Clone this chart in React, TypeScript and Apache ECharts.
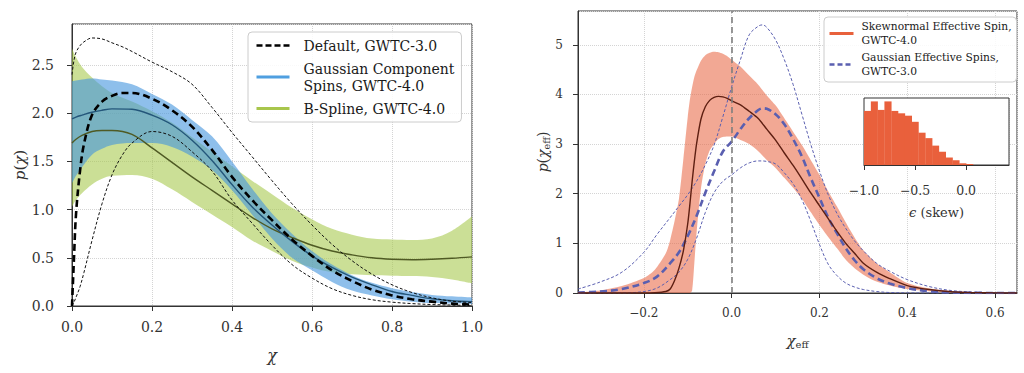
import React, { useEffect, useRef } from 'react';
import * as echarts from 'echarts';

const FONT = '"DejaVu Serif", serif';
const TXT = '#333333';

// ---------- Left panel: p(chi) ----------
const chiGrid = [0, 0.01, 0.025, 0.05, 0.075, 0.1, 0.15, 0.2, 0.25, 0.3, 0.35, 0.4, 0.45, 0.5, 0.55, 0.6, 0.65, 0.7, 0.75, 0.8, 0.85, 0.9, 0.95, 1.0];
const gaussUpper = [2.33, 2.34, 2.35, 2.36, 2.35, 2.34, 2.3, 2.2, 2.09, 1.93, 1.76, 1.5, 1.22, 0.96, 0.75, 0.57, 0.43, 0.32, 0.24, 0.185, 0.145, 0.115, 0.1, 0.087];
const gaussMedian = [1.94, 1.96, 1.98, 2.01, 2.03, 2.045, 2.04, 1.98, 1.88, 1.72, 1.51, 1.26, 1.03, 0.84, 0.67, 0.52, 0.4, 0.3, 0.22, 0.15, 0.11, 0.075, 0.055, 0.045];
const gaussLower = [1.27, 1.35, 1.44, 1.57, 1.63, 1.67, 1.69, 1.69, 1.65, 1.55, 1.41, 1.2, 0.95, 0.7, 0.5, 0.37, 0.25, 0.16, 0.11, 0.07, 0.045, 0.03, 0.025, 0.02];
const splineUpper = [2.67, 2.58, 2.48, 2.37, 2.28, 2.21, 2.12, 2.02, 1.9, 1.75, 1.6, 1.45, 1.3, 1.16, 1.02, 0.9, 0.8, 0.74, 0.7, 0.69, 0.685, 0.7, 0.78, 0.93];
const splineMedian = [1.69, 1.73, 1.77, 1.81, 1.82, 1.82, 1.78, 1.64, 1.49, 1.34, 1.2, 1.06, 0.92, 0.8, 0.71, 0.63, 0.57, 0.53, 0.5, 0.485, 0.48, 0.485, 0.495, 0.51];
const splineLower = [1.03, 1.1, 1.17, 1.26, 1.32, 1.35, 1.36, 1.32, 1.21, 1.08, 0.95, 0.82, 0.68, 0.57, 0.47, 0.4, 0.35, 0.33, 0.32, 0.315, 0.31, 0.3, 0.275, 0.235];

const defaultChi = [0, 0.005, 0.01, 0.02, 0.03, 0.05, 0.075, 0.1, 0.125, 0.15, 0.2, 0.25, 0.3, 0.35, 0.4, 0.45, 0.5, 0.55, 0.6, 0.65, 0.7, 0.75, 0.8, 0.85, 0.9, 0.95, 1.0];
const defaultMedian = [0, 0.5, 0.95, 1.4, 1.68, 1.98, 2.12, 2.18, 2.21, 2.21, 2.15, 2.03, 1.86, 1.62, 1.34, 1.1, 0.89, 0.69, 0.52, 0.37, 0.26, 0.17, 0.11, 0.07, 0.045, 0.025, 0.015];
const defaultUpper = [2.4, 2.55, 2.63, 2.7, 2.74, 2.78, 2.77, 2.73, 2.69, 2.64, 2.53, 2.43, 2.3, 2.06, 1.8, 1.55, 1.3, 1.06, 0.84, 0.64, 0.47, 0.33, 0.22, 0.14, 0.085, 0.05, 0.035];
const defaultLower = [0, 0.04, 0.09, 0.2, 0.35, 0.68, 1.06, 1.36, 1.56, 1.69, 1.81, 1.76, 1.6, 1.4, 1.1, 0.86, 0.63, 0.43, 0.29, 0.18, 0.11, 0.065, 0.04, 0.025, 0.015, 0.01, 0.005];

// ---------- Right panel: p(chi_eff) ----------
const chiEffGrid = [-0.35, -0.3, -0.25, -0.2, -0.175, -0.15, -0.14, -0.13, -0.12, -0.11, -0.1, -0.095, -0.09, -0.085, -0.08, -0.07, -0.06, -0.05, -0.04, -0.03, -0.02, -0.01, 0, 0.02, 0.04, 0.06, 0.08, 0.1, 0.12, 0.14, 0.16, 0.18, 0.2, 0.22, 0.24, 0.26, 0.28, 0.3, 0.33, 0.36, 0.4, 0.45, 0.5, 0.55, 0.6, 0.65];
const skewLower = [0, 0, 0, 0, 0, 0, 0, 0, 0, 0, 0, 0, 0.05, 0.6, 1.2, 2.1, 2.6, 2.87, 3.0, 3.1, 3.14, 3.15, 3.15, 3.08, 3.0, 2.86, 2.68, 2.52, 2.32, 2.12, 1.9, 1.63, 1.37, 1.13, 0.9, 0.67, 0.5, 0.37, 0.23, 0.15, 0.08, 0.035, 0.015, 0.005, 0, 0];
const skewUpper = [0.01, 0.05, 0.14, 0.3, 0.47, 0.8, 1.07, 1.45, 1.9, 2.7, 3.55, 3.9, 4.15, 4.35, 4.48, 4.68, 4.79, 4.84, 4.86, 4.85, 4.82, 4.77, 4.7, 4.56, 4.38, 4.2, 3.98, 3.78, 3.52, 3.25, 2.98, 2.68, 2.38, 2.05, 1.74, 1.42, 1.12, 0.86, 0.6, 0.42, 0.2, 0.09, 0.04, 0.015, 0.005, 0];
const skewMedian = [0, 0, 0, 0, 0.005, 0.03, 0.08, 0.25, 0.5, 0.85, 1.4, 1.8, 2.25, 2.65, 3.0, 3.5, 3.75, 3.88, 3.94, 3.96, 3.95, 3.92, 3.87, 3.79, 3.66, 3.52, 3.3, 3.08, 2.82, 2.57, 2.3, 2.02, 1.76, 1.5, 1.24, 1.0, 0.8, 0.6, 0.42, 0.29, 0.15, 0.07, 0.025, 0.008, 0.002, 0];

const gaussEffX = [-0.35, -0.3, -0.25, -0.2, -0.17, -0.14, -0.12, -0.1, -0.08, -0.06, -0.04, -0.02, 0, 0.02, 0.04, 0.06, 0.07, 0.08, 0.1, 0.12, 0.14, 0.16, 0.18, 0.2, 0.22, 0.24, 0.26, 0.28, 0.3, 0.33, 0.36, 0.4, 0.45, 0.5, 0.55, 0.6, 0.65];
const gaussEffMedian = [0.01, 0.03, 0.08, 0.2, 0.33, 0.6, 0.82, 1.15, 1.55, 2.02, 2.45, 2.85, 3.05, 3.3, 3.52, 3.68, 3.72, 3.71, 3.6, 3.4, 3.1, 2.75, 2.32, 1.92, 1.52, 1.2, 0.9, 0.66, 0.48, 0.3, 0.19, 0.1, 0.035, 0.01, 0.003, 0.001, 0];
const gaussEffUpper = [0.08, 0.22, 0.42, 0.82, 1.18, 1.52, 1.75, 1.98, 2.25, 2.58, 2.98, 3.55, 4.15, 4.7, 5.2, 5.37, 5.4, 5.35, 5.1, 4.7, 4.2, 3.6, 3.0, 2.46, 1.98, 1.6, 1.3, 1.05, 0.85, 0.6, 0.44, 0.27, 0.13, 0.05, 0.02, 0.005, 0];
const gaussEffLower = [0, 0, 0, 0.03, 0.1, 0.27, 0.42, 0.68, 1.1, 1.62, 2.02, 2.25, 2.38, 2.52, 2.62, 2.66, 2.66, 2.65, 2.6, 2.42, 2.2, 1.88, 1.45, 0.98, 0.58, 0.35, 0.2, 0.12, 0.07, 0.03, 0.01, 0.003, 0, 0, 0, 0, 0];

// ---------- Inset: skewness histogram ----------
const skewBinEdges = [-1.0, -0.933, -0.867, -0.8, -0.733, -0.667, -0.6, -0.533, -0.467, -0.4, -0.333, -0.267, -0.2, -0.133, -0.067, 0.0, 0.067];
const skewHist = [159, 187, 162, 187, 159, 152, 145, 127, 95, 79, 57, 39, 22, 14, 5, 3];

// ---------- Labels ----------
const NAME_DEFAULT = 'Default, GWTC-3.0';
const NAME_GAUSS = 'Gaussian Component\nSpins, GWTC-4.0';
const NAME_SPLINE = 'B-Spline, GWTC-4.0';
const NAME_SKEW = 'Skewnormal Effective Spin,\nGWTC-4.0';
const NAME_GEFF = 'Gaussian Effective Spins,\nGWTC-3.0';

const zip = (xs: number[], ys: number[]) => xs.map((x, i) => [x, ys[i]]);
// rows as [y, x] so that the stacked dimension is the y value
const zipYX = (xs: number[], ys: number[]) => xs.map((x, i) => [ys[i], x]);
const diffYX = (xs: number[], up: number[], lo: number[]) => xs.map((x, i) => [+(up[i] - lo[i]).toFixed(4), x]);
const minus = (s: string) => s.replace('-', '\u2212');

const SMOOTH = 0.35;

function line(name: string, idx: number, data: number[][], color: string, width: number, type: any, z = 3) {
  return {
    type: 'line', name, xAxisIndex: idx, yAxisIndex: idx, data, symbol: 'none', showSymbol: false,
    smooth: SMOOTH, z,
    lineStyle: { color, width, type },
    itemStyle: { color },
    emphasis: { disabled: true },
  };
}

function band(key: string, idx: number, xs: number[], lo: number[], up: number[], fill: string, smooth = SMOOTH) {
  return [
    {
      type: 'line', name: key + '-lo', xAxisIndex: idx, yAxisIndex: idx, stack: key, data: zipYX(xs, lo),
      encode: { x: 1, y: 0 },
      symbol: 'none', smooth, lineStyle: { opacity: 0 }, z: 2, emphasis: { disabled: true },
    },
    {
      type: 'line', name: key + '-band', xAxisIndex: idx, yAxisIndex: idx, stack: key, data: diffYX(xs, up, lo),
      encode: { x: 1, y: 0 },
      symbol: 'none', smooth, lineStyle: { opacity: 0 }, areaStyle: { color: fill, opacity: 1 },
      z: 2, emphasis: { disabled: true },
    },
  ];
}

const tick = { show: true, length: 5, lineStyle: { color: TXT, width: 1 } };
const axLine = { show: true, onZero: false, lineStyle: { color: TXT, width: 1 } };
const grid = { show: true, lineStyle: { type: 'dotted', color: '#d4d4d4', width: 1 } };

function buildOption(): any {
  return {
    animation: false,
    textStyle: { fontFamily: FONT },
    grid: [
      { left: 72, top: 24, width: 400, height: 282, show: true, borderColor: TXT, borderWidth: 1, backgroundColor: 'transparent' },
      { left: 578, top: 11, width: 439, height: 282, show: true, borderColor: TXT, borderWidth: 1, backgroundColor: 'transparent' },
      { left: 864, top: 98, width: 145, height: 67, show: true, borderColor: TXT, borderWidth: 1, backgroundColor: '#ffffff', z: 5 },
    ],
    xAxis: [
      {
        gridIndex: 0, type: 'value', min: 0, max: 1, interval: 0.2,
        axisLine: axLine, axisTick: tick, splitLine: grid,
        axisLabel: { formatter: (v: number) => v.toFixed(1), fontSize: 14, color: TXT, margin: 14, fontFamily: FONT },
        name: '{it|χ}', nameLocation: 'middle', nameGap: 41,
        nameTextStyle: { fontFamily: FONT, color: TXT, rich: { it: { fontStyle: 'italic', fontSize: 16, fontFamily: FONT, color: TXT } } },
      },
      {
        gridIndex: 1, type: 'value', min: -0.35, max: 0.65,
        axisLine: axLine, axisTick: tick, splitLine: grid,
        axisLabel: { formatter: (v: number) => minus(v.toFixed(1)), fontSize: 12, color: TXT, margin: 14, fontFamily: FONT, showMinLabel: false, showMaxLabel: false },
        name: '{it|χ}{sub|eff}', nameLocation: 'middle', nameGap: 40,
        nameTextStyle: {
          fontFamily: FONT, color: TXT,
          rich: {
            it: { fontStyle: 'italic', fontSize: 15, fontFamily: FONT, color: TXT },
            sub: { fontSize: 10, fontFamily: FONT, color: TXT, verticalAlign: 'bottom', padding: [6, 0, 0, 0] },
          },
        },
      },
      {
        gridIndex: 2, type: 'value', min: -1, max: 0.42, interval: 0.5,
        axisLine: axLine, axisTick: tick,
        splitLine: { show: true, lineStyle: { type: 'dotted', color: '#dddddd' } },
        axisLabel: { formatter: (v: number) => minus(v.toFixed(1)), fontSize: 12.5, color: TXT, margin: 19, fontFamily: FONT, showMaxLabel: false },
        name: '{it|ϵ} (skew)', nameLocation: 'middle', nameGap: 41,
        nameTextStyle: { fontFamily: FONT, fontSize: 13, color: TXT, rich: { it: { fontStyle: 'italic', fontSize: 13, fontFamily: FONT, color: TXT } } },
      },
    ],
    yAxis: [
      {
        gridIndex: 0, type: 'value', min: 0, max: 2.925, interval: 0.5,
        axisLine: axLine, axisTick: tick, splitLine: grid,
        axisLabel: { formatter: (v: number) => v.toFixed(1), fontSize: 14, color: TXT, margin: 18, fontFamily: FONT, showMaxLabel: false },
        name: '{it|p}({it|χ})', nameLocation: 'middle', nameGap: 45,
        nameTextStyle: { fontFamily: FONT, fontSize: 15, color: TXT, rich: { it: { fontStyle: 'italic', fontSize: 15, fontFamily: FONT, color: TXT } } },
      },
      {
        gridIndex: 1, type: 'value', min: 0, max: 5.68, interval: 1,
        axisLine: axLine, axisTick: tick, splitLine: grid,
        axisLabel: { formatter: (v: number) => String(Math.round(v)), fontSize: 12, color: TXT, margin: 15, fontFamily: FONT, showMaxLabel: false },
        name: '{it|p}({it|χ}{sub|eff})', nameLocation: 'middle', nameGap: 26,
        nameTextStyle: {
          fontFamily: FONT, fontSize: 14, color: TXT,
          rich: {
            it: { fontStyle: 'italic', fontSize: 14, fontFamily: FONT, color: TXT },
            sub: { fontSize: 9.5, fontFamily: FONT, color: TXT, verticalAlign: 'bottom', padding: [6, 0, 0, 0] },
          },
        },
      },
      {
        gridIndex: 2, type: 'value', min: 0, max: 197,
        axisLine: { show: false, onZero: false }, axisTick: { show: false }, axisLabel: { show: false }, splitLine: { show: false },
      },
    ],
    legend: [
      {
        left: 248, top: 32, orient: 'vertical', padding: [5, 7, 5, 7], itemGap: 6, itemWidth: 33, itemHeight: 14,
        backgroundColor: 'rgba(255,255,255,0.85)', borderColor: '#cccccc', borderWidth: 1, borderRadius: 4,
        selectedMode: false, z: 10,
        textStyle: { fontFamily: FONT, fontSize: 14, color: '#1a1a1a', lineHeight: 17, padding: [0, 0, 0, 9] },
        data: [
          { name: NAME_DEFAULT, itemStyle: { opacity: 0 }, lineStyle: { color: '#000000', width: 2.5, type: [6, 3] } },
          { name: NAME_GAUSS, itemStyle: { opacity: 0 }, lineStyle: { color: '#4f9fe0', width: 3, type: 'solid' } },
          { name: NAME_SPLINE, itemStyle: { opacity: 0 }, lineStyle: { color: '#a8c64c', width: 3, type: 'solid' } },
        ],
      },
      {
        left: 824, top: 17, orient: 'vertical', padding: [3, 5, 4, 4], itemGap: 4, itemWidth: 24, itemHeight: 12,
        backgroundColor: 'rgba(255,255,255,0.85)', borderColor: '#cccccc', borderWidth: 1, borderRadius: 4,
        selectedMode: false, z: 10,
        textStyle: { fontFamily: FONT, fontSize: 10.7, color: '#1a1a1a', lineHeight: 13.5, padding: [0, 0, 0, 3] },
        data: [
          { name: NAME_SKEW, itemStyle: { opacity: 0 }, lineStyle: { color: '#e8613c', width: 3, type: 'solid' } },
          { name: NAME_GEFF, itemStyle: { opacity: 0 }, lineStyle: { color: '#5a5fb0', width: 2.5, type: [5, 3] } },
        ],
      },
    ],
    series: [
      ...band('spline', 0, chiGrid, splineLower, splineUpper, 'rgba(166,200,74,0.58)'),
      ...band('gauss', 0, chiGrid, gaussLower, gaussUpper, 'rgba(66,148,222,0.6)'),
      line(NAME_SPLINE, 0, zip(chiGrid, splineMedian), '#4f5a24', 1.4),
      line(NAME_GAUSS, 0, zip(chiGrid, gaussMedian), '#24567a', 1.4),
      line('default-upper', 0, zip(defaultChi, defaultUpper), '#111111', 1, [3, 2]),
      line('default-lower', 0, zip(defaultChi, defaultLower), '#111111', 1, [3, 2]),
      line(NAME_DEFAULT, 0, zip(defaultChi, defaultMedian), '#000000', 2.6, [7, 4], 4),

      ...band('skew', 1, chiEffGrid, skewLower, skewUpper, 'rgba(232,97,60,0.55)', 0.25),
      line('geff-upper', 1, zip(gaussEffX, gaussEffUpper), '#5a5fb0', 1, [3, 2]),
      line('geff-lower', 1, zip(gaussEffX, gaussEffLower), '#5a5fb0', 1, [3, 2]),
      line(NAME_GEFF, 1, zip(gaussEffX, gaussEffMedian), '#5a5fb0', 2.6, [7, 4], 4),
      {
        ...line(NAME_SKEW, 1, zip(chiEffGrid, skewMedian), '#5e1f12', 1.4, 'solid', 4),
        smooth: 0.25,
        markLine: {
          silent: true, symbol: ['none', 'none'], label: { show: false },
          lineStyle: { color: '#7f7f7f', width: 1.6, type: [6, 4] },
          emphasis: { disabled: true },
          data: [{ xAxis: 0 }],
        },
      },

      {
        type: 'custom', name: 'skew-hist', xAxisIndex: 2, yAxisIndex: 2, z: 6,
        data: skewHist.map((h, i) => [skewBinEdges[i], skewBinEdges[i + 1], h]),
        encode: { x: [0, 1], y: 2 },
        renderItem: (_p: any, api: any) => {
          const a = api.coord([api.value(0), api.value(2)]);
          const b = api.coord([api.value(1), 0]);
          return {
            type: 'rect',
            shape: { x: a[0], y: a[1], width: b[0] - a[0] + 0.3, height: b[1] - a[1] },
            style: { fill: '#e9603c' },
          };
        },
      },
    ],
  };
}

export default function App() {
  const ref = useRef<HTMLDivElement>(null);
  useEffect(() => {
    if (!ref.current) return;
    const chart = echarts.init(ref.current, null, { renderer: 'svg' });
    chart.setOption(buildOption());
    return () => chart.dispose();
  }, []);
  return <div ref={ref} style={{ position: 'fixed', left: 0, top: 0, width: 1024, height: 373, background: '#fff' }} />;
}
